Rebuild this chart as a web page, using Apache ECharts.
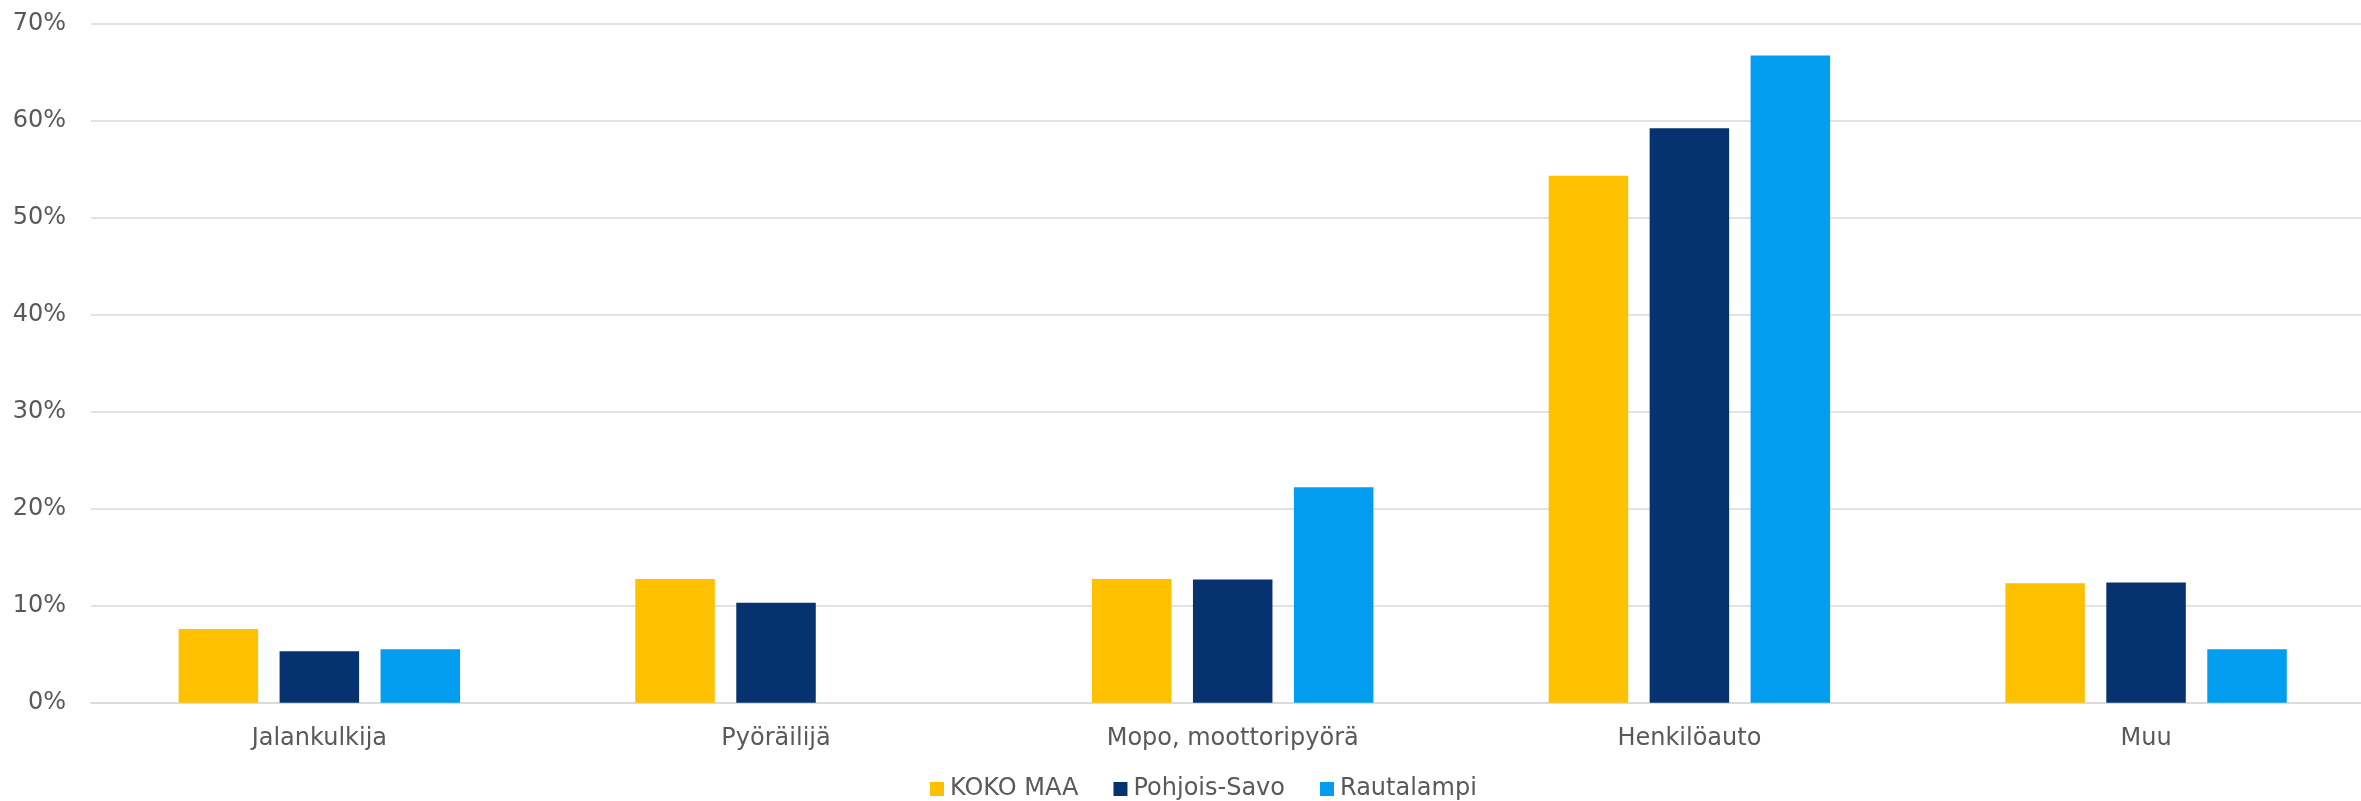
<!DOCTYPE html>
<html>
<head>
<meta charset="utf-8">
<script src="https://cdn.jsdelivr.net/npm/echarts@6/dist/echarts.min.js"></script>
<style>
  html, body { margin: 0; padding: 0; background: #ffffff; overflow: hidden; }
  #chart { width: 2375px; height: 801px; }
</style>
</head>
<body>
<div id="chart"></div>
<script>
const categories = ['Jalankulkija', 'Pyöräilijä', 'Mopo, moottoripyörä', 'Henkilöauto', 'Muu'];
const seriesNames = ['KOKO MAA', 'Pohjois-Savo', 'Rautalampi'];
const kokoMaa = [7.6, 12.75, 12.75, 54.3, 12.3];
const pohjoisSavo = [5.3, 10.3, 12.7, 59.2, 12.4];
const rautalampi = [5.5, 0, 22.2, 66.7, 5.5];
const yTicks = { min: 0, max: 70, interval: 10 };
const colors = ['#FFC000', '#06336F', '#039DEF'];

const chart = echarts.init(document.getElementById('chart'), null, { renderer: 'canvas' });
const font = 'DejaVu Sans';
const textColor = '#595959';
const gridColor = '#d9d9d9';

const mkSeries = (name, data, color) => ({
  name: name,
  type: 'bar',
  data: data,
  barWidth: 79.5,
  barGap: '27%',
  itemStyle: { color: color },
  emphasis: { disabled: true }
});

chart.setOption({
  animation: false,
  backgroundColor: '#ffffff',
  textStyle: { fontFamily: font },
  grid: { left: 91, top: 23.5, right: 0.6, bottom: 98.3, containLabel: false },
  legend: {
    data: seriesNames,
    left: 930,
    top: 777,
    padding: 0,
    icon: 'rect',
    itemWidth: 14,
    itemHeight: 14,
    itemGap: 35,
    textStyle: { fontFamily: font, fontSize: 24, color: textColor, padding: [0, 0, 0, 1] }
  },
  xAxis: {
    type: 'category',
    data: categories,
    axisTick: { show: false },
    axisLine: { show: true, lineStyle: { color: gridColor, width: 1.5 } },
    axisLabel: { fontFamily: font, fontSize: 24, color: textColor, margin: 24, interval: 0 }
  },
  yAxis: {
    type: 'value',
    min: yTicks.min,
    max: yTicks.max,
    interval: yTicks.interval,
    axisLine: { show: false },
    axisTick: { show: false },
    splitLine: { show: true, lineStyle: { color: gridColor, width: 1.5 } },
    axisLabel: { fontFamily: font, fontSize: 24, color: textColor, margin: 25, formatter: '{value}%' }
  },
  series: [
    mkSeries(seriesNames[0], kokoMaa, colors[0]),
    mkSeries(seriesNames[1], pohjoisSavo, colors[1]),
    mkSeries(seriesNames[2], rautalampi, colors[2])
  ]
});
</script>
</body>
</html>
